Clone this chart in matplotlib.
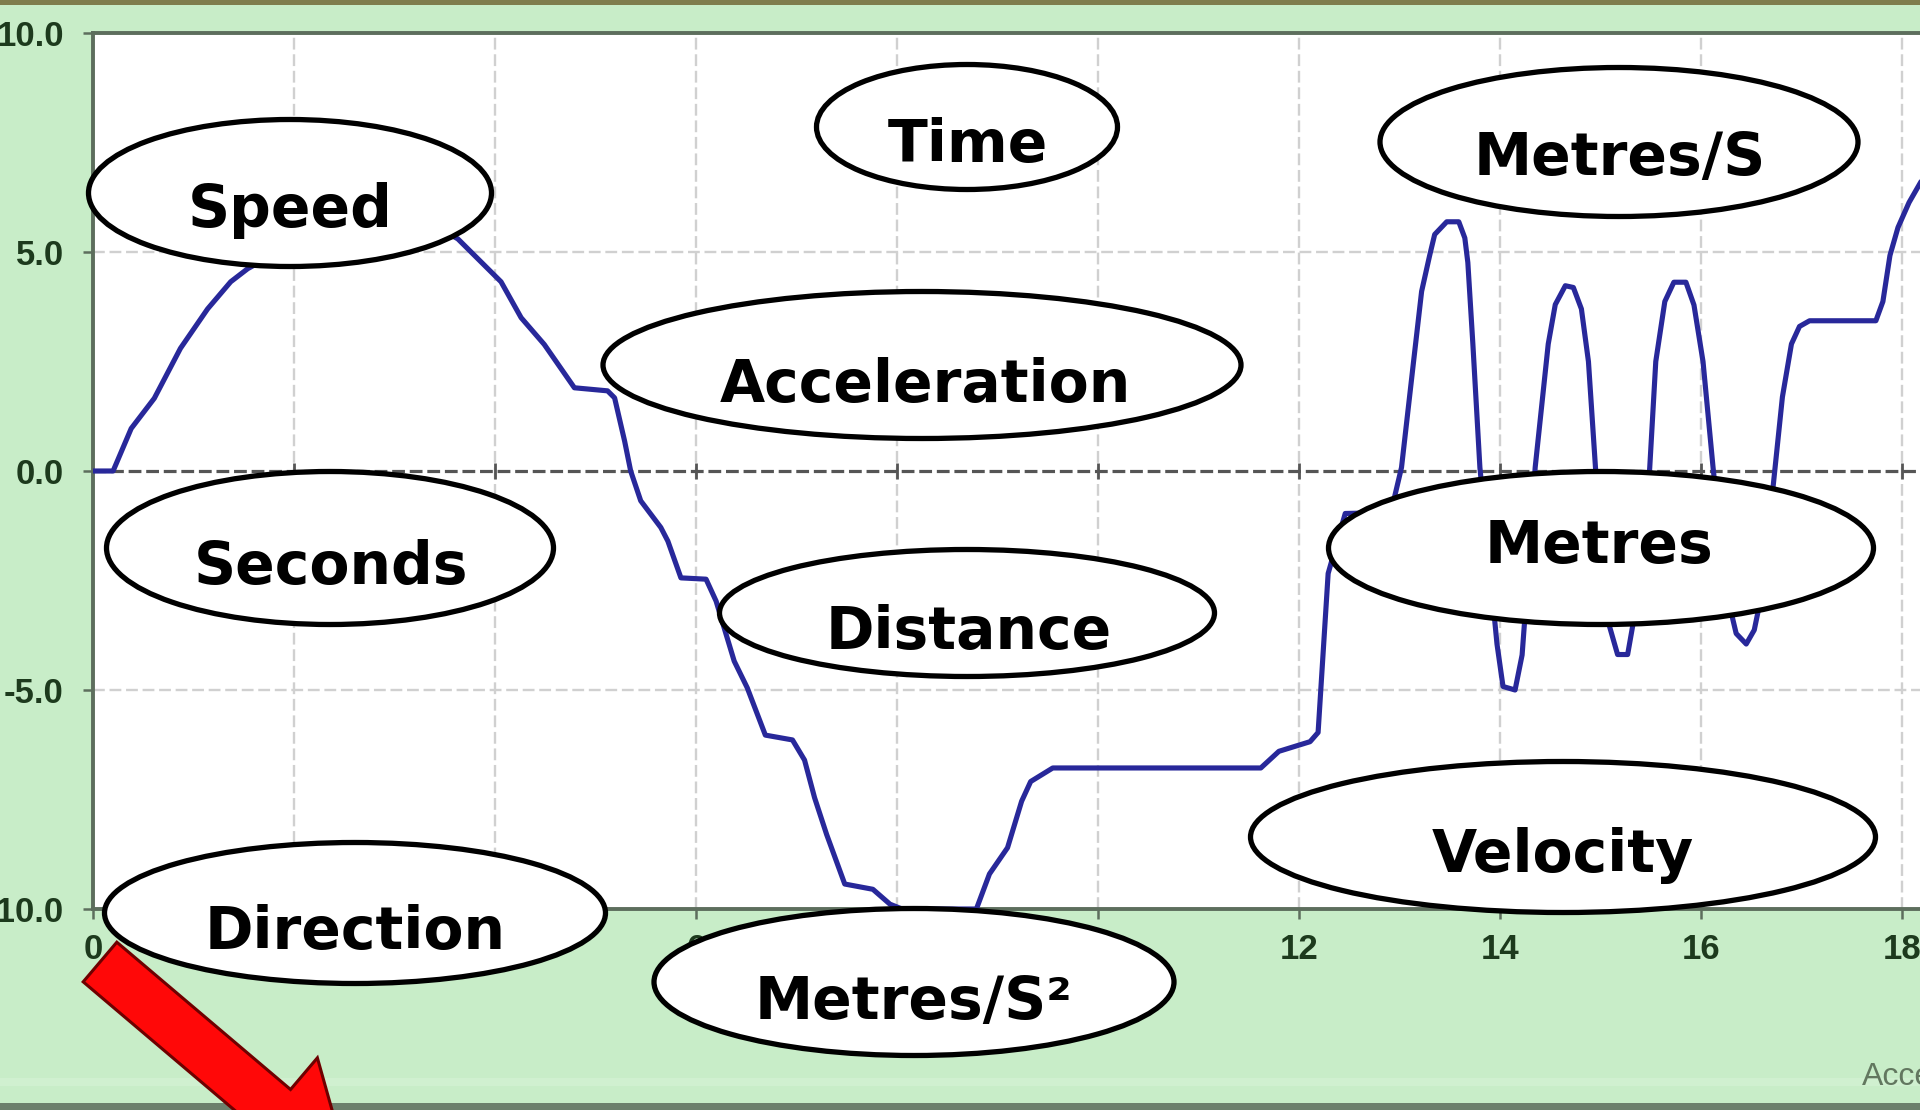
import matplotlib
matplotlib.use("Agg")
import matplotlib.pyplot as plt
from matplotlib.patches import Ellipse, FancyArrow, Rectangle

# ---------------- data ----------------
time_s = [0.0, 0.2, 0.38, 0.61, 0.87, 1.14, 1.37, 1.54, 2.0, 2.5, 3.0, 3.4, 3.63,
          4.06, 4.26, 4.49, 4.79, 5.12, 5.19, 5.29, 5.35, 5.45, 5.65, 5.72, 5.85,
          6.1, 6.2, 6.28, 6.38, 6.51, 6.69, 6.96, 7.08, 7.18, 7.3, 7.48, 7.76, 7.93,
          8.05, 8.79, 8.92, 9.1, 9.24, 9.33, 9.55, 11.62, 11.8, 12.11, 12.19, 12.29,
          12.46, 12.85, 12.95, 13.02, 13.14, 13.22, 13.3, 13.35, 13.47, 13.59, 13.65,
          13.68, 13.73, 13.8, 13.97, 14.03, 14.15, 14.22, 14.28, 14.35, 14.48, 14.55,
          14.65, 14.73, 14.81, 14.88, 14.95, 15.09, 15.17, 15.27, 15.35, 15.44, 15.49,
          15.55, 15.64, 15.73, 15.85, 15.93, 16.02, 16.12, 16.25, 16.35, 16.45, 16.53,
          16.61, 16.73, 16.81, 16.9, 16.98, 17.08, 17.74, 17.81, 17.88, 17.96, 18.07,
          18.17, 18.25]
acceleration = [0.0, 0.0, 0.97, 1.66, 2.8, 3.7, 4.32, 4.62, 5.2, 5.6, 5.75, 5.6, 5.3,
                4.32, 3.5, 2.89, 1.9, 1.83, 1.67, 0.68, 0.0, -0.68, -1.29, -1.6, -2.44,
                -2.47, -2.97, -3.58, -4.34, -4.95, -6.03, -6.14, -6.6, -7.46, -8.3, -9.43,
                -9.55, -9.89, -10.0, -10.0, -9.2, -8.6, -7.54, -7.09, -6.78, -6.78, -6.4,
                -6.18, -5.97, -2.34, -0.97, -0.95, -0.6, 0.08, 2.5, 4.1, 4.92, 5.4, 5.69,
                5.69, 5.32, 4.76, 2.9, 0.08, -3.95, -4.92, -5.0, -4.2, -2.34, 0.08, 2.9,
                3.8, 4.23, 4.19, 3.7, 2.5, 0.08, -3.55, -4.19, -4.19, -3.15, -1.53, 0.08,
                2.5, 3.87, 4.31, 4.31, 3.79, 2.5, 0.08, -2.74, -3.71, -3.95, -3.63, -2.74,
                -0.08, 1.69, 2.9, 3.3, 3.43, 3.43, 3.87, 4.92, 5.56, 6.13, 6.53, 6.85]

x_ticks = [0, 2, 4, 6, 8, 10, 12, 14, 16, 18]
x_tick_labels = ["0", "2", "4", "6", "8", "10", "12", "14", "16", "18"]
y_ticks = [-10, -5, 0, 5, 10]
y_tick_labels = ["-10.0", "-5.0", "0.0", "5.0", "10.0"]

bubble_words = ["Time", "Speed", "Metres/S", "Acceleration", "Seconds",
                "Distance", "Metres", "Velocity", "Direction", "Metres/S\u00b2"]
corner_label = "Acceleration"

# ---------------- layout (figure pixels, origin top-left) ----------------
W, H = 1920, 1110
bubble_centres = [(967, 127), (290, 193), (1619, 142), (922, 365), (330, 548),
                  (967, 613), (1601, 548), (1563, 837), (355, 913), (914, 982)]
bubble_sizes = [(301, 125), (403, 147), (478, 149), (638, 147), (447, 153),
                (495, 127), (545, 153), (625, 151), (501, 141), (520, 147)]
text_anchor = [(968, 162), (290, 227), (1620, 175), (925, 402), (331, 584),
               (969, 649), (1599, 563), (1563, 872), (355, 949), (914, 1019)]

GREEN_BG = "#c8edc8"
SPINE = "#5d6e5d"
TICKTXT = "#1d3a1d"

fig = plt.figure(figsize=(W / 100, H / 100), dpi=100, facecolor=GREEN_BG)

left_px, top_px, bottom_px = 93, 33, 909
ax = fig.add_axes([left_px / W, 1 - bottom_px / H, 1 - left_px / W,
                   (bottom_px - top_px) / H])
ax.set_facecolor("white")
ax.set_xlim(0, (W - left_px) / 100.5)
ax.set_ylim(-10, 10)

# grid
for xv in x_ticks[1:]:
    ax.axvline(xv, color="#d0d0d0", lw=1.7, ls=(0, (5, 2)), zorder=1)
for yv in (-5, 5):
    ax.axhline(yv, color="#d0d0d0", lw=1.7, ls=(0, (5, 2)), zorder=1)
ax.axhline(0, color="#555555", lw=2.3, ls=(0, (4, 1.5)), zorder=1.5)
ax.plot(x_ticks[1:], [0] * (len(x_ticks) - 1), ls="none", marker="|",
        ms=12, mew=2, color="#555555", zorder=1.6)

# the trace
ax.plot(time_s, acceleration, color="#28289a", lw=3.7,
        solid_joinstyle="round", solid_capstyle="round", zorder=3)

# axes styling
for side in ("top", "left", "bottom"):
    ax.spines[side].set_color(SPINE)
    ax.spines[side].set_linewidth(2.8)
ax.spines["right"].set_visible(False)

ax.set_xticks(x_ticks)
ax.set_xticklabels(x_tick_labels)
ax.set_yticks(y_ticks)
ax.set_yticklabels(y_tick_labels)
ax.tick_params(axis="both", direction="out", length=7, width=1.8, color=SPINE)
ax.tick_params(axis="y", pad=14)
ax.tick_params(axis="x", pad=10)
for lab in ax.get_xticklabels() + ax.get_yticklabels():
    lab.set_fontfamily("Liberation Sans")
    lab.set_fontweight("bold")
    lab.set_fontsize(25)
    lab.set_color(TICKTXT)

# ---------------- overlay (pixel coordinates) ----------------
ov = fig.add_axes([0, 0, 1, 1], zorder=5)
ov.set_xlim(0, W)
ov.set_ylim(H, 0)
ov.axis("off")
ov.patch.set_alpha(0)

# frame bands
ov.add_patch(Rectangle((0, 0), W, 5, color="#7f7d4d", lw=0))
ov.add_patch(Rectangle((0, 1078), W, 8, color="#d0f0d0", lw=0))
ov.add_patch(Rectangle((0, 1103), W, 7, color="#6c806c", lw=0))

ov.text(1862, 1085, corner_label, fontsize=23, color="#62775f",
        family="Liberation Sans", ha="left", va="baseline")

# red arrow
ov.add_patch(FancyArrow(100, 962, 250, 212, width=52, head_width=135,
                        head_length=100, length_includes_head=True,
                        facecolor="#ff0808", edgecolor="#6e0000", lw=2.2,
                        zorder=2))

# bubbles
for word, (cx, cy), (bw, bh), (tx, ty) in zip(bubble_words, bubble_centres,
                                              bubble_sizes, text_anchor):
    ov.add_patch(Ellipse((cx, cy), bw, bh, facecolor="white",
                         edgecolor="black", lw=3.8, zorder=3))
    ov.text(tx, ty, word, fontsize=42, fontweight="bold", family="DejaVu Sans",
            color="black", ha="center", va="baseline", zorder=4)

fig.savefig("out.png", dpi=100, facecolor=GREEN_BG)
